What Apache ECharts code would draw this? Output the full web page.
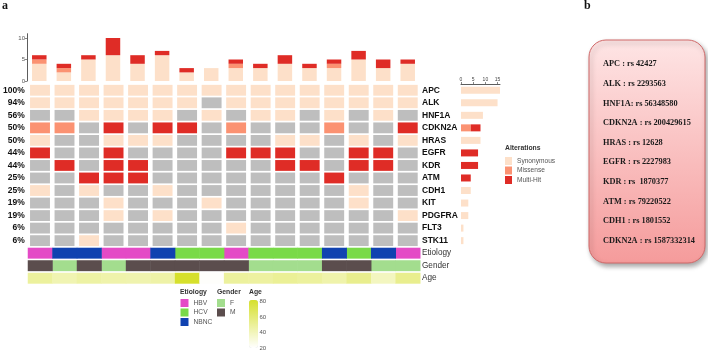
<!DOCTYPE html>
<html>
<head>
<meta charset="utf-8">
<script src="https://cdn.jsdelivr.net/npm/echarts@6/dist/echarts.min.js"></script>
<style>
  html, body { margin: 0; padding: 0; background: #fff; }
  #main { width: 708px; height: 354px; }
</style>
</head>
<body>
<div id="main"></div>
<script>
const samples = ['P1','P2','P3','P4','P5','P6','P7','P8','P9','P10','P11','P12','P13','P14','P15','P16'];
const genes = ['APC','ALK','HNF1A','CDKN2A','HRAS','EGFR','KDR','ATM','CDH1','KIT','PDGFRA','FLT3','STK11'];
const genePct = ['100%','94%','56%','50%','50%','44%','44%','25%','25%','19%','19%','6%','6%'];
const annoRows = ['Etiology','Gender','Age'];

// one string per gene, one char per sample: S synonymous, M missense, H multi-hit, . none
const alterations = [
  'SSSSSSSSSSSSSSSS', // APC
  'SSSSSSS.SSSSSSSS', // ALK
  '..SSSS.S.SS.S.S.', // HNF1A
  'MM.H.HH.M...M..H', // CDKN2A
  'S..SSS....SS.S.S', // HRAS
  'H..H....HHH..HH.', // EGFR
  '.H.HH.....HH.HH.', // KDR
  '..HHH.......H...', // ATM
  'S.S..S.......S..', // CDH1
  '...S...S.....S..', // KIT
  '...S.S.........S', // PDGFRA
  '........S.......', // FLT3
  '..S.............'  // STK11
];

// alterations per sample (top bars)
const sampleSyn   = [4,2,5,6,4,6,2,3,3,3,4,3,3,5,3,4];
const sampleMis   = [1,1,0,0,0,0,0,0,1,0,0,0,1,0,0,0];
const sampleMulti = [1,1,1,4,2,1,1,0,1,1,2,1,1,2,2,1];

// alterations per gene (right bars)
const geneSyn   = [16,15,9,0,8,0,0,0,4,3,3,1,1];
const geneMis   = [0,0,0,4,0,0,0,0,0,0,0,0,0];
const geneMulti = [0,0,0,4,0,7,7,4,0,0,0,0,0];

const etiology = ['HBV','NBNC','NBNC','HBV','HBV','NBNC','HCV','HCV','HBV','HCV','HCV','HCV','NBNC','HCV','NBNC','HBV'];
const gender   = ['M','F','M','F','M','M','M','M','M','F','F','F','M','M','F','F'];
const age      = [48,42,46,44,43,45,80,21,48,47,50,48,44,52,38,52];

const snpList = [
  'APC : rs 42427', 'ALK : rs 2293563', 'HNF1A: rs 56348580', 'CDKN2A : rs 200429615',
  'HRAS : rs 12628', 'EGFR : rs 2227983', 'KDR : rs  1870377', 'ATM : rs 79220522',
  'CDH1 : rs 1801552', 'CDKN2A : rs 1587332314'
];

const C_SYN = '#fde0c9', C_MIS = '#fb9272', C_MULTI = '#df2c26', C_NONE = '#bebebe';
const typeKeys = ['.', 'S', 'M', 'H'];
const typeColors = [C_NONE, C_SYN, C_MIS, C_MULTI];
const etioColors = { HBV: '#e44ac6', HCV: '#79da48', NBNC: '#1042b0' };
const genderColors = { F: '#a3dd8e', M: '#5b4d4d' };

const rowNames = genes.concat(annoRows);
const ETIO_ROW = genes.length, GENDER_ROW = genes.length + 1, AGE_ROW = genes.length + 2;

let cellData = [];
alterations.forEach((row, r) => {
  row.split('').forEach((k, c) => cellData.push([c, r, typeKeys.indexOf(k)]));
});

const cellItem = (params, api) => {
  let p = api.coord([api.value(0), api.value(1)]);
  let s = api.size([1, 1]);
  return {
    type: 'rect',
    shape: { x: p[0] - s[0] / 2 + 2.3, y: p[1] - s[1] / 2 + 0.85, width: s[0] - 4.6, height: s[1] - 1.7 },
    style: { fill: typeColors[api.value(2)] }
  };
};

const bandItem = (params, api) => {
  let p = api.coord([api.value(0), api.value(1)]);
  let s = api.size([1, 1]);
  return {
    type: 'rect',
    shape: { x: p[0] - s[0] / 2, y: p[1] - s[1] / 2 + 0.8, width: s[0] + 0.5, height: s[1] - 1.6 },
    style: { fill: api.visual('color') }
  };
};

const bandSeries = (name, color, row, values) => ({
  name: name,
  type: 'custom',
  xAxisIndex: 1,
  yAxisIndex: 1,
  itemStyle: { color: color },
  renderItem: bandItem,
  data: values.map((v, c) => v === name ? [c, row] : null).filter(d => d)
});

const smallTitle = (text, left, top) => ({
  text: text, left: left, top: top, padding: 0,
  textStyle: { fontSize: 6.8, fontWeight: 'bold', color: '#333', fontFamily: 'Liberation Sans' }
});

const chart = echarts.init(document.getElementById('main'));

chart.setOption({
  animation: false,
  textStyle: { fontFamily: 'Liberation Sans' },
  title: [
    { text: 'a', left: 2, top: 0, padding: 0, textStyle: { fontFamily: 'Liberation Serif', fontWeight: 'bold', fontSize: 12, color: '#111' } },
    { text: 'b', left: 584, top: 0, padding: 0, textStyle: { fontFamily: 'Liberation Serif', fontWeight: 'bold', fontSize: 12, color: '#111' } },
    smallTitle('Alterations', 505, 145),
    smallTitle('Etiology', 180, 289),
    smallTitle('Gender', 217, 289),
    smallTitle('Age', 249, 289)
  ],
  legend: [
    {
      data: ['Synonymous', 'Missense', 'Multi-Hit'],
      orient: 'vertical', left: 505, top: 157, padding: 0,
      icon: 'rect', itemWidth: 7, itemHeight: 8, itemGap: 1.5,
      textStyle: { fontSize: 6.6, color: '#555' }
    },
    {
      data: ['HBV', 'HCV', 'NBNC'],
      orient: 'vertical', left: 180.5, top: 299, padding: 0,
      icon: 'rect', itemWidth: 8, itemHeight: 8, itemGap: 1.5,
      textStyle: { fontSize: 6.7, color: '#555' }
    },
    {
      data: ['F', 'M'],
      orient: 'vertical', left: 217, top: 299, padding: 0,
      icon: 'rect', itemWidth: 8, itemHeight: 8, itemGap: 1.5,
      textStyle: { fontSize: 6.7, color: '#555' }
    }
  ],
  visualMap: {
    type: 'continuous',
    seriesIndex: 12,
    dimension: 2,
    min: 20, max: 80,
    inRange: { color: ['#ffffff', '#d6e02c'] },
    calculable: false,
    left: 249, top: 300,
    itemWidth: 9, itemHeight: 48,
    padding: 0,
    text: null
  },
  grid: [
    { left: 27, top: 33.7, width: 393, height: 47.3 },
    { left: 27, top: 84, width: 393, height: 200.5 },
    { left: 461, top: 84, width: 39, height: 162.9 },
    { left: 249, top: 301.7, width: 9, height: 46.6 }
  ],
  xAxis: [
    { type: 'category', gridIndex: 0, data: samples, show: false },
    { type: 'category', gridIndex: 1, data: samples, show: false },
    {
      type: 'value', gridIndex: 2, position: 'top', min: 0, max: 16,
      axisLine: { show: true, lineStyle: { color: '#333', width: 0.8 } },
      axisTick: { show: true, length: 2, lineStyle: { color: '#333', width: 0.6 }, customValues: [0, 5, 10, 15] },
      axisLabel: { fontSize: 5, margin: 2, color: '#444', customValues: [0, 5, 10, 15] },
      splitLine: { show: false }
    },
    { type: 'value', gridIndex: 3, show: false }
  ],
  yAxis: [
    {
      type: 'value', gridIndex: 0, min: 0, max: 11,
      axisLine: { show: true, lineStyle: { color: '#333', width: 0.8 } },
      axisTick: { show: true, length: 2, lineStyle: { color: '#333', width: 0.6 }, customValues: [0, 5, 10] },
      axisLabel: { fontSize: 6, margin: 2, color: '#555', customValues: [0, 5, 10] },
      splitLine: { show: false }
    },
    {
      type: 'category', gridIndex: 1, data: rowNames, inverse: true, position: 'right',
      axisLine: { show: false }, axisTick: { show: false },
      axisLabel: {
        interval: 0, margin: 2,
        formatter: (v, i) => i < genes.length ? '{g|' + v + '}' : '{a|' + v + '}',
        rich: {
          g: { fontSize: 8.5, fontWeight: 'bold', color: '#111' },
          a: { fontSize: 8.2, color: '#333' }
        }
      }
    },
    {
      type: 'category', gridIndex: 1, data: rowNames, inverse: true, position: 'left',
      axisLine: { show: false }, axisTick: { show: false },
      axisLabel: {
        interval: 0, margin: 3, fontSize: 8.5, fontWeight: 'bold', color: '#111',
        formatter: (v, i) => genePct[i] || ''
      }
    },
    { type: 'category', gridIndex: 2, data: genes, inverse: true, show: false },
    {
      type: 'value', gridIndex: 3, min: 20, max: 80, interval: 20, position: 'right',
      axisLine: { show: false }, axisTick: { show: false }, splitLine: { show: false },
      axisLabel: { fontSize: 6, margin: 1.5, color: '#555' }
    }
  ],
  series: [
    { name: 'Synonymous', type: 'bar', stack: 'top', xAxisIndex: 0, yAxisIndex: 0, barWidth: 14.5, itemStyle: { color: C_SYN }, data: sampleSyn },
    { name: 'Missense', type: 'bar', stack: 'top', xAxisIndex: 0, yAxisIndex: 0, barWidth: 14.5, itemStyle: { color: C_MIS }, data: sampleMis },
    { name: 'Multi-Hit', type: 'bar', stack: 'top', xAxisIndex: 0, yAxisIndex: 0, barWidth: 14.5, itemStyle: { color: C_MULTI }, data: sampleMulti },

    { name: 'Synonymous', type: 'bar', stack: 'right', xAxisIndex: 2, yAxisIndex: 3, barWidth: 7, itemStyle: { color: C_SYN }, data: geneSyn },
    { name: 'Missense', type: 'bar', stack: 'right', xAxisIndex: 2, yAxisIndex: 3, barWidth: 7, itemStyle: { color: C_MIS }, data: geneMis },
    { name: 'Multi-Hit', type: 'bar', stack: 'right', xAxisIndex: 2, yAxisIndex: 3, barWidth: 7, itemStyle: { color: C_MULTI }, data: geneMulti },

    { name: 'cells', type: 'custom', xAxisIndex: 1, yAxisIndex: 1, renderItem: cellItem, data: cellData },

    bandSeries('HBV', etioColors.HBV, ETIO_ROW, etiology),
    bandSeries('HCV', etioColors.HCV, ETIO_ROW, etiology),
    bandSeries('NBNC', etioColors.NBNC, ETIO_ROW, etiology),
    bandSeries('F', genderColors.F, GENDER_ROW, gender),
    bandSeries('M', genderColors.M, GENDER_ROW, gender),
    {
      name: 'Age', type: 'custom', xAxisIndex: 1, yAxisIndex: 1, renderItem: bandItem,
      data: age.map((a, c) => [c, AGE_ROW, a])
    }
  ],
  graphic: [
    {
      type: 'rect', x: 589, y: 40,
      shape: { width: 116, height: 223, r: 17 },
      style: {
        fill: { type: 'linear', x: 0, y: 0, x2: 0, y2: 1, colorStops: [{ offset: 0, color: '#fee5e5' }, { offset: 1, color: '#f59b9b' }] },
        stroke: '#d06868', lineWidth: 1,
        shadowBlur: 5, shadowOffsetX: 2, shadowOffsetY: 3, shadowColor: 'rgba(0,0,0,0.35)'
      }
    }
  ].concat(snpList.map((t, i) => ({
    type: 'text', x: 603, y: 64.3 + i * 19.6,
    style: { text: t, font: 'bold 8.3px "Liberation Serif"', fill: '#1a1a1a', verticalAlign: 'middle' }
  })))
});
</script>
</body>
</html>
